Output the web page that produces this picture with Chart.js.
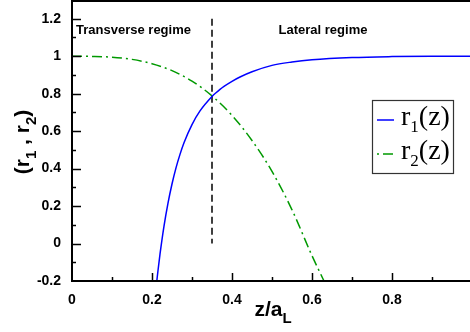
<!DOCTYPE html>
<html>
<head>
<meta charset="utf-8">
<script src="https://cdn.jsdelivr.net/npm/chart.js@4.4.1/dist/chart.umd.min.js"></script>
<style>
  body { margin: 0; background: #fff; overflow: hidden; }
  #wrap { width: 470px; height: 332px; }
</style>
</head>
<body>
<div id="wrap"><canvas id="myChart" width="470" height="332"></canvas></div>
<script>
// DATOS //
const zR1 = [0.212, 0.215, 0.22, 0.23, 0.24, 0.25, 0.26, 0.27, 0.28, 0.30, 0.32, 0.35, 0.36, 0.37, 0.38, 0.40, 0.42, 0.45, 0.50, 0.55, 0.60, 0.70, 0.80, 0.90, 1.00];
const r1 = [-0.20, -0.144, -0.057, 0.093, 0.216, 0.318, 0.404, 0.476, 0.538, 0.635, 0.708, 0.785, 0.805, 0.823, 0.839, 0.866, 0.889, 0.917, 0.951, 0.969, 0.981, 0.993, 0.998, 1.0, 1.0];
const zR2 = [0, 0.05, 0.10, 0.15, 0.20, 0.25, 0.30, 0.35, 0.40, 0.45, 0.50, 0.55, 0.60, 0.63];
const r2 = [1, 0.999, 0.995, 0.983, 0.96, 0.923, 0.867, 0.788, 0.684, 0.55, 0.385, 0.18, -0.065, -0.2];
const zBoundary = [0.35, 0.35];
const yBoundary = [1.2, 0];
const xTicks = [0, 0.2, 0.4, 0.6, 0.8];
const yTicks = [-0.2, 0, 0.2, 0.4, 0.6, 0.8, 1, 1.2];
const regimes = ["Transverse regime", "Lateral regime"];
const seriesNames = [["r", "1", "(z)"], ["r", "2", "(z)"]];
const colors = ["#0000ff", "#009900"];

function toPoints(xs, ys) {
  return xs.map((x, i) => ({ x: x, y: ys[i] }));
}

// texto con subindices: parts = [[texto, esSub], ...]
function drawSub(ctx, parts, x, y, font, subFont, subDy, align) {
  let total = 0;
  parts.forEach((p) => {
    ctx.font = p[1] ? subFont : font;
    total += ctx.measureText(p[0]).width;
  });
  let cx = align === "center" ? x - total / 2 : x;
  ctx.textAlign = "left";
  parts.forEach((p) => {
    ctx.font = p[1] ? subFont : font;
    ctx.fillText(p[0], cx, p[1] ? y + subDy : y);
    cx += ctx.measureText(p[0]).width;
  });
}

// sin relleno extra en los ejes
function noPad(s) {
  s.paddingTop = 0;
  s.paddingBottom = 0;
  s.paddingLeft = 0;
  s.paddingRight = 0;
}

const decor = {
  id: "decor",
  afterDatasetsDraw(chart) {
    const ctx = chart.ctx;
    const a = chart.chartArea;
    const xs = chart.scales.x;
    const ys = chart.scales.y;
    ctx.save();
    ctx.strokeStyle = "#000";
    ctx.fillStyle = "#000";

    // marco
    ctx.lineWidth = 2;
    ctx.beginPath();
    ctx.moveTo(a.right + 2, a.top + 1);
    ctx.lineTo(a.left, a.top + 1);
    ctx.lineTo(a.left, a.bottom);
    ctx.lineTo(a.right + 2, a.bottom);
    ctx.stroke();

    // marcas hacia dentro
    ctx.lineWidth = 1.5;
    ctx.beginPath();
    for (let i = 1; i <= 10; i++) {
      const v = i / 10;
      if (v > xs.max) break;
      const px = Math.round(xs.getPixelForValue(v)) + 0.5;
      ctx.moveTo(px, a.bottom);
      ctx.lineTo(px, a.bottom - (i % 2 === 0 ? 8 : 4));
    }
    for (let i = -1; i <= 12; i++) {
      const py = Math.round(ys.getPixelForValue(i / 10)) + 0.5;
      ctx.moveTo(a.left, py);
      ctx.lineTo(a.left + (i % 2 === 0 ? 9 : 4), py);
    }
    ctx.stroke();

    // regimenes
    ctx.font = "bold 13px 'Liberation Sans', Arial, sans-serif";
    ctx.textAlign = "center";
    ctx.textBaseline = "alphabetic";
    ctx.fillText(regimes[0], 133.5, 34);
    ctx.fillText(regimes[1], 323, 34);

    // titulos de los ejes
    drawSub(ctx, [["z/a", false], ["L", true]], 273, 316,
      "bold 21px 'Liberation Sans', Arial, sans-serif",
      "bold 15px 'Liberation Sans', Arial, sans-serif", 7, "center");
    ctx.save();
    ctx.translate(29, 142);
    ctx.rotate(-Math.PI / 2);
    drawSub(ctx, [["(r", false], ["1", true], [" , r", false], ["2", true], [")", false]], 0, 0,
      "bold 21px 'Liberation Sans', Arial, sans-serif",
      "bold 15px 'Liberation Sans', Arial, sans-serif", 7, "center");
    ctx.restore();

    // leyenda
    ctx.lineWidth = 1.2;
    ctx.strokeStyle = "#333";
    ctx.strokeRect(372.5, 100.5, 81, 73);
    const rows = [121, 155];
    seriesNames.forEach((name, i) => {
      ctx.strokeStyle = colors[i];
      ctx.lineWidth = 1.5;
      ctx.setLineDash(i === 0 ? [] : [2, 4, 10, 4]);
      ctx.beginPath();
      ctx.moveTo(377, rows[i] - 1);
      ctx.lineTo(394, rows[i] - 1);
      ctx.stroke();
      ctx.setLineDash([]);
      drawSub(ctx, [[name[0], false], [name[1], true], [name[2], false]], 401, rows[i] + 4,
        "28px 'Liberation Serif', 'Times New Roman', serif",
        "17px 'Liberation Serif', 'Times New Roman', serif", 7, "left");
    });
    ctx.restore();
  }
};

document.addEventListener("DOMContentLoaded", function () {
  const ctx = document.getElementById("myChart").getContext("2d");
  new Chart(ctx, {
    type: "line",
    data: {
      datasets: [
        {
          label: "r1(z)",
          data: toPoints(zR1, r1),
          borderColor: colors[0],
          borderWidth: 1.5,
          pointRadius: 0,
          cubicInterpolationMode: "monotone",
        },
        {
          label: "r2(z)",
          data: toPoints(zR2, r2),
          borderColor: colors[1],
          borderWidth: 1.5,
          borderDash: [10, 4, 2, 4],
          pointRadius: 0,
          cubicInterpolationMode: "monotone",
        },
        {
          label: "boundary",
          data: toPoints(zBoundary, yBoundary),
          borderColor: "#000",
          borderWidth: 1.5,
          borderDash: [7, 4],
          pointRadius: 0,
        },
      ],
    },
    options: {
      responsive: false,
      animation: false,
      layout: { padding: 0 },
      plugins: { legend: { display: false }, tooltip: { enabled: false } },
      scales: {
        x: {
          type: "linear",
          min: 0,
          max: 0.995,
          grid: { display: false },
          border: { display: false },
          afterBuildTicks: (s) => { s.ticks = xTicks.map((v) => ({ value: v })); },
          afterFit: (s) => { s.height = 51; noPad(s); },
          ticks: {
            autoSkip: false,
            maxRotation: 0,
            padding: 3,
            color: "#000",
            font: { family: "'Liberation Sans', Arial, sans-serif", size: 14, weight: "bold" },
            callback: (v) => String(+v.toFixed(1)),
          },
        },
        y: {
          min: -0.2,
          max: 1.3,
          grid: { display: false },
          border: { display: false },
          afterBuildTicks: (s) => { s.ticks = yTicks.map((v) => ({ value: v })); },
          afterFit: (s) => { s.width = 72; noPad(s); },
          ticks: {
            padding: 3,
            color: "#000",
            font: { family: "'Liberation Sans', Arial, sans-serif", size: 14, weight: "bold" },
            callback: (v) => String(+v.toFixed(1)),
          },
        },
      },
    },
    plugins: [decor],
  });
});
</script>
</body>
</html>
